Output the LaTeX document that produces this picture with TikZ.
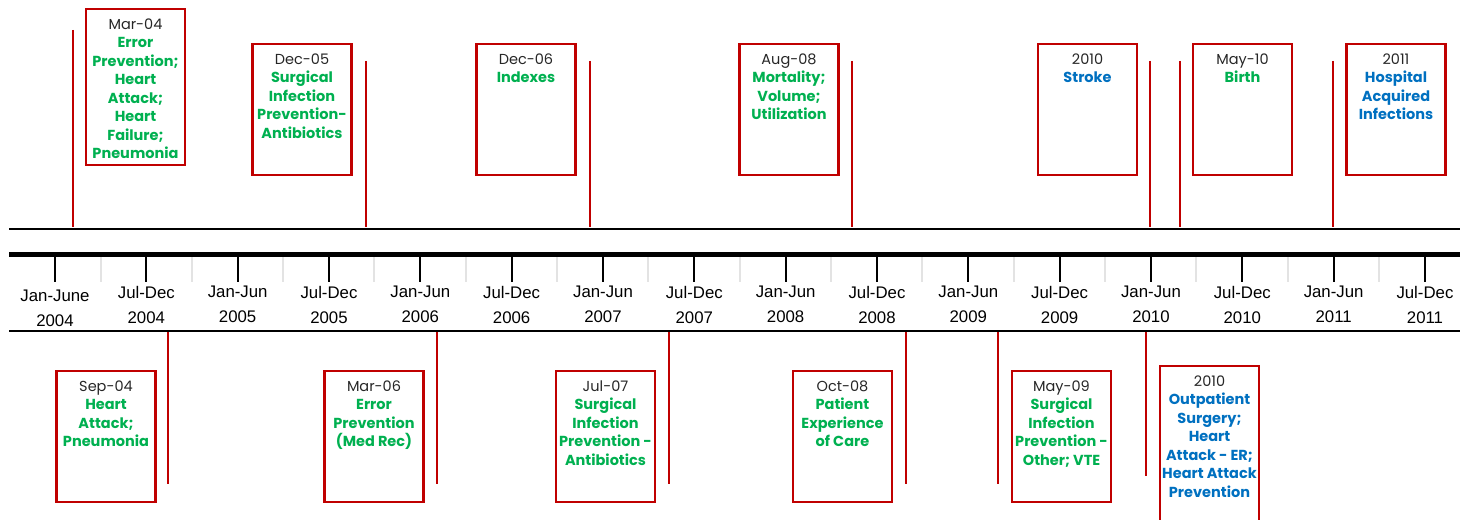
\documentclass[tikz,border=0pt]{standalone}
\usepackage{fontspec}
\usetikzlibrary{positioning}
\newfontfamily\boxfont{Poppins}
\newfontfamily\axisfont{Liberation Sans}
\definecolor{evred}{HTML}{C00000}
\definecolor{evgreen}{HTML}{00B050}
\definecolor{evblue}{HTML}{0070C0}
\definecolor{evgray}{HTML}{262626}
\definecolor{sepgray}{HTML}{E3E3E3}
\newcommand{\evdate}[1]{\textcolor{evgray}{\mdseries #1}}

\begin{document}
\begin{tikzpicture}[x=0.5pt,y=-0.5pt,
	evbox/.style={draw=evred, line width=1.2pt, minimum width=49.5pt, minimum height=65.5pt, inner sep=0pt},
	evtext/.style={align=center, inner sep=0pt, text=evgreen, font=\boxfont\fontsize{7.25}{9.25}\selectfont\bfseries},
	newtext/.style={text=evblue},
	dropline/.style={draw=evred, line width=1pt},
	axisline/.style={line width=1pt},
	tickmark/.style={line width=1pt},
	sepmark/.style={draw=sepgray, line width=1pt},
	period/.style={align=center, inner sep=0pt, anchor=north, text=black, font=\axisfont\fontsize{8.4}{12.5}\selectfont}]
	\useasboundingbox (0,0) rectangle (1460,519);
	
	% time axis
	\draw[axisline] (9,229) -- (1460,229);
	\draw[line width=2.5pt] (9,254.8) -- (1460,254.8);
	\draw[axisline] (9,330.5) -- (1460,330.5);
	\foreach \i in {0,...,14}
		\draw[sepmark] ({100.5+91.33*\i},257) -- ++(0,25);
	\foreach \i in {0,...,15}
		\draw[tickmark] ({55+91.33*\i},257) -- ++(0,25);
	
	\node[period] (per0) at (55,289.5) {Jan-June\\2004};
	\foreach \i/\per/\yr in {1/Jul-Dec/2004, 2/Jan-Jun/2005, 3/Jul-Dec/2005,
		4/Jan-Jun/2006, 5/Jul-Dec/2006, 6/Jan-Jun/2007, 7/Jul-Dec/2007,
		8/Jan-Jun/2008, 9/Jul-Dec/2008, 10/Jan-Jun/2009, 11/Jul-Dec/2009,
		12/Jan-Jun/2010, 13/Jul-Dec/2010, 14/Jan-Jun/2011, 15/Jul-Dec/2011}
		\node[period] (per\i) at ({55+91.33*\i},286) {\per\\\yr};
	
	% drop lines
	\foreach \x/\y in {73/30, 366/61, 590/61, 852/61, 1150/61, 1180/61, 1333/61}
		\draw[dropline] (\x,\y) -- (\x,227);
	\foreach \x/\y in {168/484, 437/484, 669/484, 906/484, 998/484, 1146/476}
		\draw[dropline] (\x,332) -- (\x,\y);
	
	% events above
	\node[evbox, minimum height=78pt] (mar04) at (135.5,87) {};
	\node[evbox] (dec05) at (302,109.5) {};
	\node[evbox] (dec06) at (526,109.5) {};
	\node[evbox] (aug08) at (789,109.5) {};
	\node[evbox] (stroke10) at (1087.5,109.5) {};
	\node[evbox] (may10) at (1242.5,109.5) {};
	\node[evbox] (hai11) at (1396,109.5) {};
	
	\node[evtext, below=5.2pt of mar04.north] (mar04t) {\evdate{Mar-04}\\Error\\Prevention;\\Heart\\Attack;\\Heart\\Failure;\\Pneumonia};
	\node[evtext, below=5.2pt of dec05.north] (dec05t) {\evdate{Dec-05}\\Surgical\\Infection\\Prevention-\\Antibiotics};
	\node[evtext, below=5.2pt of dec06.north] (dec06t) {\evdate{Dec-06}\\Indexes};
	\node[evtext, below=5.2pt of aug08.north] (aug08t) {\evdate{Aug-08}\\Mortality;\\Volume;\\Utilization};
	\node[evtext, newtext, below=5.2pt of stroke10.north] (stroke10t) {\evdate{2010}\\Stroke};
	\node[evtext, below=5.2pt of may10.north] (may10t) {\evdate{May-10}\\Birth};
	\node[evtext, newtext, below=5.2pt of hai11.north] (hai11t) {\evdate{2011}\\Hospital\\Acquired\\Infections};
	
	% events below
	\node[evbox] (sep04) at (106,436.5) {};
	\node[evbox] (mar06) at (374,436.5) {};
	\node[evbox] (jul07) at (605.5,436.5) {};
	\node[evbox] (oct08) at (842.5,436.5) {};
	\node[evbox] (may09) at (1061.5,436.5) {};
	\node[evbox, minimum height=87pt] (out10) at (1209.5,453) {};
	
	\node[evtext, below=5.2pt of sep04.north] (sep04t) {\evdate{Sep-04}\\Heart\\Attack;\\Pneumonia};
	\node[evtext, below=5.2pt of mar06.north] (mar06t) {\evdate{Mar-06}\\Error\\Prevention\\(Med Rec)};
	\node[evtext, below=5.2pt of jul07.north] (jul07t) {\evdate{Jul-07}\\Surgical\\Infection\\Prevention -\\Antibiotics};
	\node[evtext, below=5.2pt of oct08.north] (oct08t) {\evdate{Oct-08}\\Patient\\Experience\\of Care};
	\node[evtext, below=5.2pt of may09.north] (may09t) {\evdate{May-09}\\Surgical\\Infection\\Prevention -\\Other; VTE};
	\node[evtext, newtext, below=5.2pt of out10.north] (out10t) {\evdate{2010}\\Outpatient\\Surgery;\\Heart\\Attack - ER;\\Heart Attack\\Prevention};
\end{tikzpicture}
\end{document}
